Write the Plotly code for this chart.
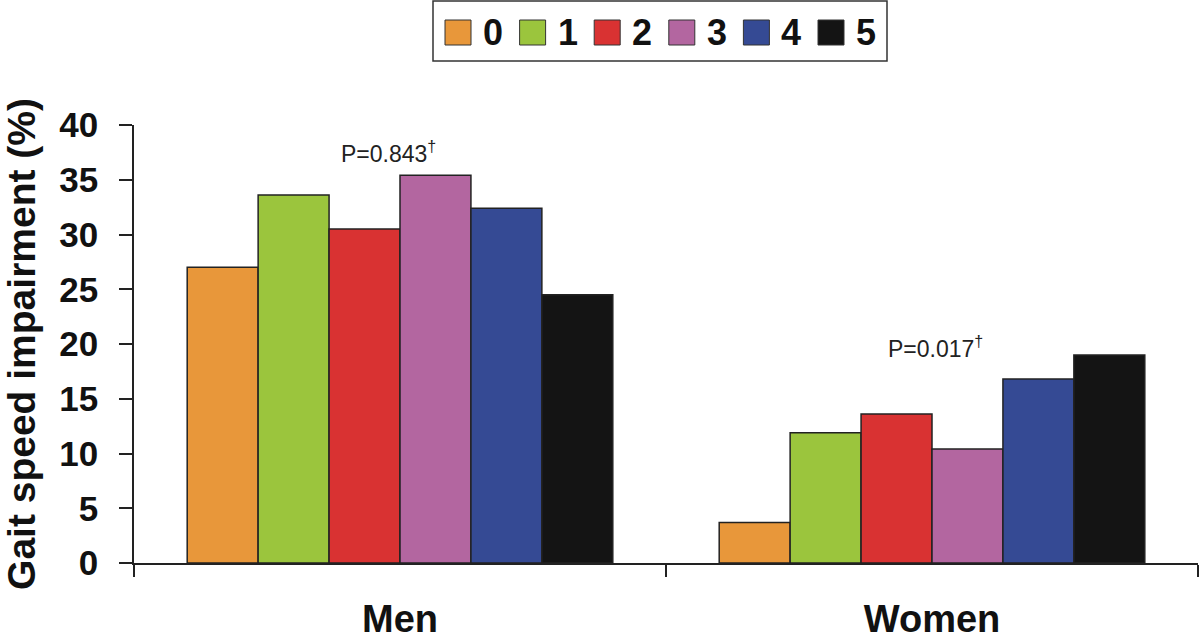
import plotly.graph_objects as go

# ---- data ----
groups = ["Men", "Women"]
levels = ["0", "1", "2", "3", "4", "5"]
men = [27.0, 33.6, 30.5, 35.4, 32.4, 24.5]
women = [3.7, 11.9, 13.6, 10.4, 16.8, 19.0]
colors = ["#E8973A", "#9BC53D", "#D93232", "#B366A0", "#354A94", "#141414"]
p_texts = ["P=0.843<sup>†</sup>", "P=0.017<sup>†</sup>"]
p_y = [37.5, 19.7]
y_ticks = [0, 5, 10, 15, 20, 25, 30, 35, 40]

FONT = "Liberation Sans, Arial, sans-serif"
W, H = 1200, 636
OFF = 0  # page body margin removed via post_script
# desired plot area in page pixels
PL, PR, PT, PB = 134, 1198, 125, 563
L, R, T, B = PL - OFF, W - (PR - OFF), PT - OFF, H - (PB - OFF)

fig = go.Figure()
for i, lvl in enumerate(levels):
    fig.add_trace(go.Bar(
        x=groups, y=[men[i], women[i]], name=lvl,
        marker=dict(color=colors[i], line=dict(color="#222222", width=1.5)),
        showlegend=False,
    ))

# annotations with P values
for gi, (txt, yv) in enumerate(zip(p_texts, p_y)):
    fig.add_annotation(x=gi, y=yv, xref="x", yref="y", text=txt, showarrow=False,
                       xshift=(-12 if gi == 0 else 3),
                       font=dict(family=FONT, size=23, color="#222222"))

# manual legend (large swatches) built from levels/colors
def px2x(p):
    return (p - PL) / (PR - PL)
def py2y(p):
    return (PB - p) / (PB - PT)

fig.add_shape(type="rect", xref="paper", yref="paper",
              x0=px2x(433), x1=px2x(887), y0=py2y(61), y1=py2y(1),
              line=dict(color="#333333", width=1.5), fillcolor="white")
start, step = 445, 74.6
for i, lvl in enumerate(levels):
    sx = start + i * step
    fig.add_shape(type="rect", xref="paper", yref="paper",
                  x0=px2x(sx), x1=px2x(sx + 26), y0=py2y(45), y1=py2y(20),
                  line=dict(color="#333333", width=1), fillcolor=colors[i])
    fig.add_annotation(xref="paper", yref="paper", x=px2x(sx + 36), y=py2y(32.5),
                       xanchor="left", yanchor="middle", text=lvl, showarrow=False,
                       font=dict(family=FONT, size=36, color="#111111", weight="bold"))

fig.update_layout(
    width=W, height=H,
    margin=dict(l=L, r=R, t=T, b=B, autoexpand=False),
    barmode="group", bargap=0.2, bargroupgap=0,
    plot_bgcolor="white", paper_bgcolor="white",
    font=dict(family=FONT, color="#111111"),
)
fig.update_xaxes(
    showline=True, linecolor="#222222", linewidth=1.5,
    ticks="outside", ticklen=12, tickwidth=1.5, tickcolor="#222222",
    tickson="boundaries", showgrid=False,
    tickfont=dict(family=FONT, size=38, weight="bold", color="#111111"),
    ticklabelstandoff=22,
)
fig.update_yaxes(
    range=[0, 40], tickvals=y_ticks, showline=True, linecolor="#222222", linewidth=1.5,
    ticks="outside", ticklen=13, tickwidth=1.5, tickcolor="#222222",
    showgrid=False, zeroline=False,
    tickfont=dict(family=FONT, size=35, weight="bold", color="#111111"),
    ticklabelstandoff=14,
    title=dict(text="Gait speed impairment (%)", standoff=31,
               font=dict(family=FONT, size=39, weight="bold", color="#111111")),
)

fig.write_html("out.html", config={"displayModeBar": False},
               post_script="document.body.style.margin='0';")
